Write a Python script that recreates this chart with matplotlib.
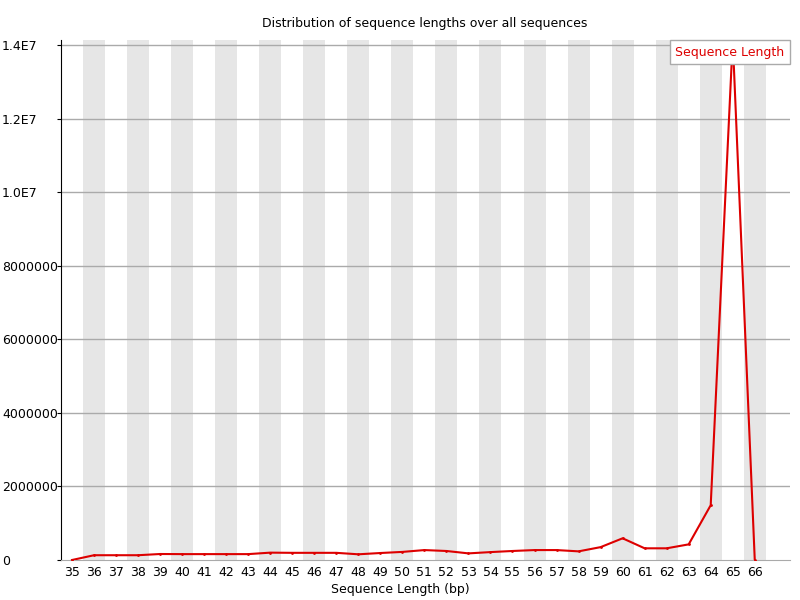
import numpy as np
import matplotlib
matplotlib.use('Agg')
import matplotlib.pyplot as plt
from matplotlib.patches import Rectangle

# 序列长度分布（FastQC 风格）
lengths = list(range(35, 67))
counts = [0, 130000, 130000, 130000, 163000, 160000, 160000, 160000, 160000,
          200000, 195000, 195000, 195000, 155000, 190000, 220000, 270000,
          245000, 180000, 215000, 245000, 270000, 270000, 235000, 350000,
          590000, 318000, 318000, 425000, 1490000, 14140000, 0]
yticks = [0, 2000000, 4000000, 6000000, 8000000, 10000000, 12000000, 14000000]
ytick_labels = ['0', '2000000', '4000000', '6000000', '8000000', '1.0E7', '1.2E7', '1.4E7']

plt.rcParams['font.family'] = ['DejaVu Sans']
fig = plt.figure(figsize=(8, 6), dpi=100)
ax = fig.add_axes([61/800, 40/600, 729/800, 520/600])

x = np.arange(len(lengths))
y_top = max(counts)

# 交替灰色背景条
for i in x:
    if i % 2 == 1:
        ax.add_patch(Rectangle((i - 0.5, 0), 1, y_top, facecolor='#e6e6e6',
                               edgecolor='none', zorder=0))

for t in yticks[1:]:
    ax.axhline(t, color='#aaaaaa', lw=1, zorder=1)

ax.plot(x, counts, color='#dd0000', lw=1.5, marker='.', markersize=2, zorder=3,
        label='Sequence Length')

ax.set_xlim(-0.5, len(lengths) + 0.6)
ax.set_ylim(0, y_top)
ax.set_xticks(x)
ax.set_xticklabels([str(v) for v in lengths], fontsize=9)
ax.set_yticks(yticks)
ax.set_yticklabels(ytick_labels, fontsize=9, ha='left')
ax.tick_params(axis='y', length=3, pad=39.5, color='black')
ax.tick_params(axis='x', length=0, pad=4)

for s in ['top', 'right']:
    ax.spines[s].set_visible(False)
ax.spines['bottom'].set_color('#aaaaaa')
ax.spines['left'].set_color('black')

fig.text(0.5, 1 - 590/600, 'Sequence Length (bp)', ha='center', va='center', fontsize=9)
fig.text(425/800, 1 - 24/600, 'Distribution of sequence lengths over all sequences',
         ha='center', va='center', fontsize=9)

# 图例：白底灰框红字
leg = ax.legend(loc='upper right', bbox_to_anchor=(790/800, 1 - 40/600),
                bbox_transform=fig.transFigure, handlelength=0, handletextpad=0,
                fancybox=False, framealpha=1, edgecolor='#aaaaaa',
                fontsize=9, borderpad=0.45, borderaxespad=0)
for h in leg.legend_handles:
    h.set_visible(False)
for t in leg.get_texts():
    t.set_color('#dd0000')

fig.savefig('out.png', dpi=100)
